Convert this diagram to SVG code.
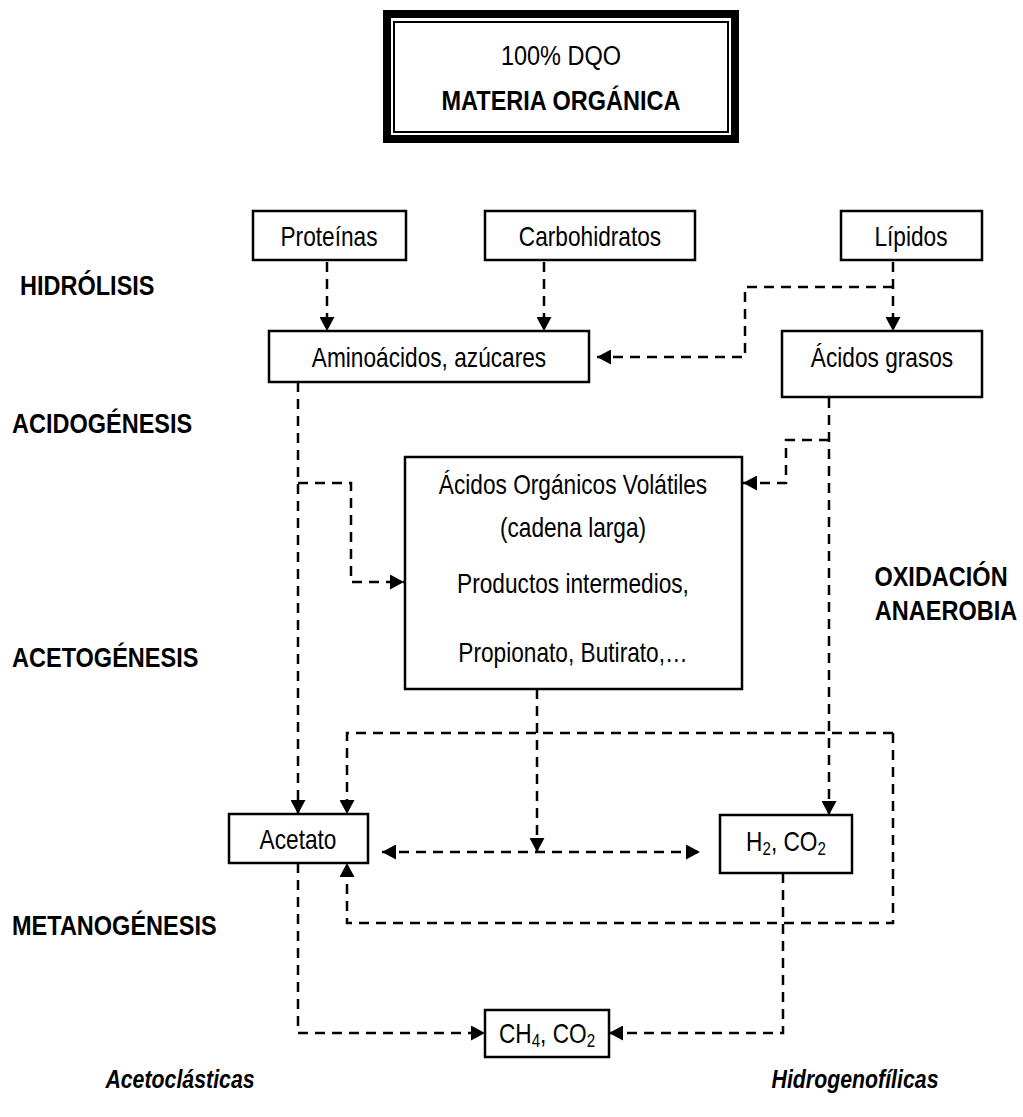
<svg xmlns="http://www.w3.org/2000/svg" width="1023" height="1117" viewBox="0 0 1023 1117">
<style>
.box{fill:#fff;stroke:#000;stroke-width:2.5}
.t{font-family:"Liberation Sans",Arial,sans-serif;font-size:27px;fill:#000;text-anchor:middle}
.s{text-anchor:start}
.b{font-weight:bold;font-size:28px}
.bi{font-weight:bold;font-style:italic;font-size:26px}
.c{fill:none;stroke:#000;stroke-width:2.5;stroke-dasharray:10 7}
.ar{marker-end:url(#ah)}
</style>
<defs>
<marker id="ah" viewBox="0 0 14 15" refX="14" refY="7.5" markerWidth="14" markerHeight="15" markerUnits="userSpaceOnUse" orient="auto-start-reverse">
<path d="M0,0 L14,7.5 L0,15 z" fill="#000"/>
</marker>
</defs>
<rect width="1023" height="1117" fill="#fff"/>

<g id="materia">
<rect x="387" y="14" width="348" height="125" fill="#fff" stroke="#000" stroke-width="8"/>
<rect x="394" y="22" width="334" height="110" fill="none" stroke="#000" stroke-width="2"/>
<text class="t" style="font-size:28px" transform="translate(561 65) scale(0.84 1)">100% DQO</text>
<text class="t b" transform="translate(561 110) scale(0.84 1)">MATERIA ORGÁNICA</text>
</g>

<g id="labels">
<text class="t b s" transform="translate(20 295) scale(0.84 1)">HIDRÓLISIS</text>
<text class="t b s" transform="translate(12 433) scale(0.84 1)">ACIDOGÉNESIS</text>
<text class="t b s" transform="translate(12 667) scale(0.84 1)">ACETOGÉNESIS</text>
<text class="t b s" transform="translate(12 935) scale(0.84 1)">METANOGÉNESIS</text>
<text class="t b" transform="translate(941 586) scale(0.84 1)">OXIDACIÓN</text>
<text class="t b" transform="translate(946 620) scale(0.84 1)">ANAEROBIA</text>
<text class="t bi" transform="translate(180 1088) scale(0.82 1)">Acetoclásticas</text>
<text class="t bi" transform="translate(855 1088) scale(0.82 1)">Hidrogenofílicas</text>
</g>

<g id="proteinas"><rect class="box" x="253" y="211" width="153" height="49"/><text class="t" transform="translate(329 246) scale(0.84 1)">Proteínas</text></g>
<g id="carbohidratos"><rect class="box" x="485" y="211" width="210" height="49"/><text class="t" transform="translate(590 246) scale(0.84 1)">Carbohidratos</text></g>
<g id="lipidos"><rect class="box" x="841" y="211" width="141" height="49"/><text class="t" transform="translate(911 246) scale(0.84 1)">Lípidos</text></g>
<g id="aminoacidos"><rect class="box" x="269" y="331" width="320" height="51"/><text class="t" transform="translate(429 367) scale(0.84 1)">Aminoácidos, azúcares</text></g>
<g id="acidos-grasos"><rect class="box" x="782" y="331" width="200" height="66"/><text class="t" transform="translate(882 367) scale(0.84 1)">Ácidos grasos</text></g>
<g id="aov"><rect class="box" x="405" y="457" width="337" height="232"/>
<text class="t" transform="translate(573 494) scale(0.84 1)">Ácidos Orgánicos Volátiles</text>
<text class="t" transform="translate(573 537) scale(0.84 1)">(cadena larga)</text>
<text class="t" transform="translate(573 593) scale(0.84 1)">Productos intermedios,</text>
<text class="t" transform="translate(573 662) scale(0.84 1)">Propionato, Butirato,…</text>
</g>
<g id="acetato"><rect class="box" x="229" y="814" width="139" height="49"/><text class="t" transform="translate(298 849) scale(0.84 1)">Acetato</text></g>
<g id="h2co2"><rect class="box" x="720" y="815" width="132" height="58"/><text class="t" transform="translate(786 851) scale(0.84 1)">H<tspan style="font-size:18px" dy="4">2</tspan><tspan dy="-4">, CO</tspan><tspan style="font-size:18px" dy="4">2</tspan></text></g>
<g id="ch4co2"><rect class="box" x="485" y="1010" width="124" height="47"/><text class="t" transform="translate(547 1043) scale(0.84 1)">CH<tspan style="font-size:18px" dy="4">4</tspan><tspan dy="-4">, CO</tspan><tspan style="font-size:18px" dy="4">2</tspan></text></g>

<g id="connectors">
<path class="c ar" d="M327,262 V331"/>
<path class="c ar" d="M544,262 V331"/>
<path class="c ar" d="M893,262 V331"/>
<path class="c ar" d="M893,287 H745 V357 H597"/>
<path class="c ar" d="M829,398 V815"/>
<path class="c ar" d="M829,440 H786 V483 H743"/>
<path class="c ar" d="M298,382 V814"/>
<path class="c ar" d="M298,483 H351 V582 H404"/>
<path class="c ar" d="M537,689 V852"/>
<path class="c ar" d="M382,852 H700" style="marker-start:url(#ah)"/>
<path class="c ar" d="M893,733 H347 V814"/>
<path class="c ar" d="M893,733 V923 H347 V863"/>
<path class="c ar" d="M298,863 V1033 H485"/>
<path class="c ar" d="M783,873 V1033 H609"/>
</g>
</svg>
